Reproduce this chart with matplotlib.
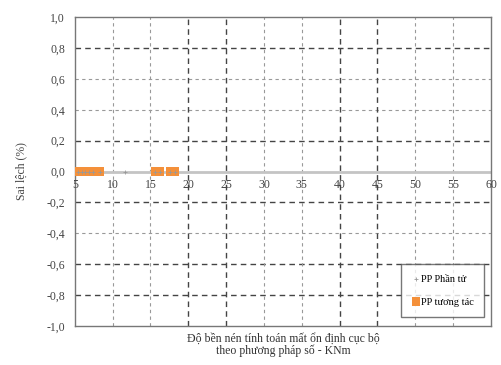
import matplotlib
matplotlib.use("Agg")
import matplotlib.pyplot as plt
from matplotlib.ticker import FuncFormatter

# Series data
x_tuong_tac = [5.4, 5.9, 6.4, 6.9, 7.4, 8.3, 15.6, 16.2, 17.6, 18.2]
y_tuong_tac = [0.0, 0.0, 0.0, 0.0, 0.0, 0.0, 0.0, 0.0, 0.0, 0.0]
x_phan_tu = [5.4, 5.9, 6.4, 6.9, 7.4, 8.3, 11.6, 15.6, 16.2, 17.6, 18.2]
y_phan_tu = [0.0, 0.0, 0.0, 0.0, 0.0, 0.0, 0.0, 0.0, 0.0, 0.0, 0.0]

x_ticks = [5, 10, 15, 20, 25, 30, 35, 40, 45, 50, 55, 60]
y_ticks = [-1.0, -0.8, -0.6, -0.4, -0.2, 0.0, 0.2, 0.4, 0.6, 0.8, 1.0]

plt.rcParams['font.family'] = ['Liberation Serif', 'DejaVu Serif']

fig = plt.figure(figsize=(5.02, 3.65), dpi=100)
ax = fig.add_axes([0.149, 0.107, 0.829, 0.846])

ax.set_xlim(5, 60)
ax.set_ylim(-1.0, 1.0)
ax.set_xticks(x_ticks)
ax.set_yticks(y_ticks)

# Gridlines
dark_y = {0.8, 0.2, -0.2, -0.6, -0.8}
for yv in y_ticks:
    if abs(yv) == 1.0 or yv == 0.0:
        continue
    key = round(yv, 1)
    if key in dark_y:
        ax.axhline(yv, color='#444444', lw=1.0, ls=(0, (4, 3)), zorder=1)
    else:
        ax.axhline(yv, color='#999999', lw=0.8, ls=(0, (3, 3)), zorder=1)
dark_x = {20, 25, 40, 45}
for xv in x_ticks[1:-1]:
    if xv in dark_x:
        ax.axvline(xv, color='#444444', lw=1.0, ls=(0, (4, 3)), zorder=1)
    else:
        ax.axvline(xv, color='#999999', lw=0.8, ls=(0, (3, 3)), zorder=1)

# Horizontal axis crossing at zero
ax.axhline(0, color='#c4c4c4', lw=2.0, zorder=2)

for s in ax.spines.values():
    s.set_color('#777777')
    s.set_linewidth(1.0)

ax.scatter(x_tuong_tac, y_tuong_tac, marker='s', s=40, color='#f4903a',
           edgecolors='none', zorder=4, label='PP tương tác')
ax.scatter(x_phan_tu, y_phan_tu, marker='+', s=10, color='#999999',
           linewidths=0.6, zorder=5, label='PP Phần tử')

fmt = FuncFormatter(lambda v, p: f"{v:.1f}".replace('.', ','))
ax.yaxis.set_major_formatter(fmt)
ax.tick_params(axis='y', length=0, labelsize=8.5, colors='#444444', pad=7)
ax.tick_params(axis='x', length=0, labelbottom=False)

for xv in x_ticks:
    ax.text(xv, -0.05, str(xv), ha='center', va='top', fontsize=8.5,
            color='#444444', zorder=3)

ax.set_ylabel('Sai lệch (%)', fontsize=8.5, color='#444444', labelpad=14)
ax.set_xlabel('Độ bền nén tính toán mất ổn định cục bộ\ntheo phương pháp số - KNm',
              fontsize=8.5, color='#333333', labelpad=5, linespacing=1.0)

handles, labels = ax.get_legend_handles_labels()
leg = ax.legend(handles[::-1], labels[::-1], loc='lower right',
                bbox_to_anchor=(0.997, 0.012), fontsize=7.5, frameon=True,
                fancybox=False, edgecolor='#555555', borderpad=1.0,
                labelspacing=1.3, handletextpad=0.1, handlelength=0.8)
leg.get_frame().set_linewidth(1.0)

fig.savefig('out.png', dpi=100)
